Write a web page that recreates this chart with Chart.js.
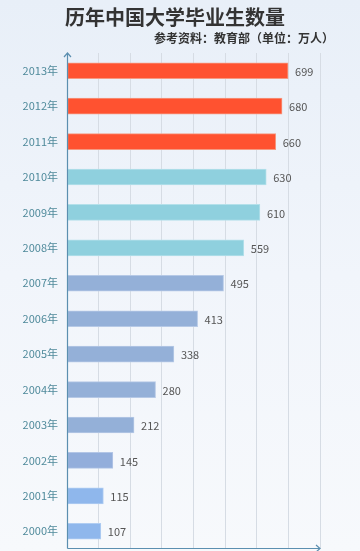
<!DOCTYPE html>
<html><head><meta charset="utf-8">
<script src="https://cdn.jsdelivr.net/npm/chart.js@4"></script>
<style>
html,body{margin:0;padding:0;}
body{width:360px;height:551px;background:linear-gradient(180deg,#e8eff8 0%,#f1f5fb 50%,#f7f9fc 100%);overflow:hidden;}
#wrap{position:absolute;left:0;top:0;width:360px;height:551px;}
</style></head><body>
<div id="wrap"><canvas id="c" width="360" height="551"></canvas></div>
<script>
const categories = ['2013年','2012年','2011年','2010年','2009年','2008年','2007年','2006年','2005年','2004年','2003年','2002年','2001年','2000年'];
const graduates = [699,680,660,630,610,559,495,413,338,280,212,145,115,107];
const barColors = ['#ff5230','#ff5230','#ff5230','#8fd0de','#8fd0de','#8fd0de','#94b0d8','#94b0d8','#94b0d8','#94b0d8','#94b0d8','#93aedb','#8fb7ec','#8fb7ec'];
const barBorders = ['#f59a82','#f59a82','#f59a82','#b4e0ea','#b4e0ea','#b4e0ea','#b6c9e6','#b6c9e6','#b6c9e6','#b6c9e6','#b6c9e6','#b3c6e6','#b0cdf2','#b0cdf2'];
const xTicks = [0,100,200,300,400,500,600,700,800];
const titleText = '历年中国大学毕业生数量';
const subtitleText = '参考资料：教育部（单位：万人）';

const FONT = '"Noto Sans CJK SC","Noto Sans",sans-serif';

const decor = {
  id:'decor',
  beforeDraw(chart){
    const ctx = chart.ctx;
    ctx.save();
    ctx.fillStyle = '#333';
    ctx.textAlign = 'center'; ctx.textBaseline = 'middle';
    ctx.font = '600 20px ' + FONT;
    ctx.fillText(titleText, 175, 17);
    ctx.textAlign = 'right';
    ctx.font = 'bold 12px ' + FONT;
    ctx.fillText(subtitleText, 334, 38);
    ctx.restore();
  },
  afterDatasetsDraw(chart){
    const ctx = chart.ctx;
    const ca = chart.chartArea;
    const meta = chart.getDatasetMeta(0);
    ctx.save();
    ctx.fillStyle = '#555';
    ctx.font = '11px ' + FONT;
    ctx.textAlign = 'left'; ctx.textBaseline = 'middle';
    meta.data.forEach((bar,i)=>{
      ctx.fillText(String(graduates[i]), bar.x + 7, bar.y + 1);
    });
    ctx.strokeStyle = '#5b8fb0';
    ctx.lineWidth = 1.2;
    const x0 = Math.round(ca.left) + 0.5;
    const y0 = Math.round(ca.bottom) - 0.5;
    const yt = ca.top;
    ctx.beginPath();
    ctx.moveTo(x0, y0); ctx.lineTo(x0, yt);
    ctx.moveTo(x0-3.5, yt+4); ctx.lineTo(x0, yt); ctx.lineTo(x0+3.5, yt+4);
    ctx.stroke();
    const xr = chart.scales.x.getPixelForValue(800);
    ctx.beginPath();
    ctx.moveTo(x0, y0); ctx.lineTo(xr, y0);
    ctx.moveTo(xr-4, y0-3.5); ctx.lineTo(xr, y0); ctx.lineTo(xr-4, y0+3.5);
    ctx.stroke();
    ctx.restore();
  }
};

new Chart(document.getElementById('c'), {
  type:'bar',
  data:{ labels:categories, datasets:[{ data:graduates, backgroundColor:barColors, borderColor:barBorders, borderWidth:1, borderSkipped:false, barThickness:16 }]},
  options:{
    indexAxis:'y', responsive:false, animation:false,
    layout:{ padding:{ top:53, right:40, bottom:2, left:0 } },
    plugins:{ legend:{display:false}, tooltip:{enabled:false}, title:{display:false} },
    scales:{
      x:{ min:0, max:800, afterBuildTicks(s){ s.ticks = xTicks.map(v=>({value:v})); },
          afterFit(s){ s.height = 0; s.paddingLeft = 0; s.paddingRight = 0; },
          ticks:{display:false}, border:{display:false},
          grid:{ color:(c)=> c.tick && c.tick.value===0 ? 'rgba(0,0,0,0)' : '#d6dce4', lineWidth:1, drawTicks:false } },
      y:{ afterFit(s){ s.width = 67; s.paddingTop = 0; s.paddingBottom = 0; }, border:{display:false},
          grid:{display:false, drawTicks:false},
          ticks:{ color:'#4f8a9b', font:{ size:11, family:FONT }, padding:9 } }
    }
  },
  plugins:[decor]
});
</script></body></html>
